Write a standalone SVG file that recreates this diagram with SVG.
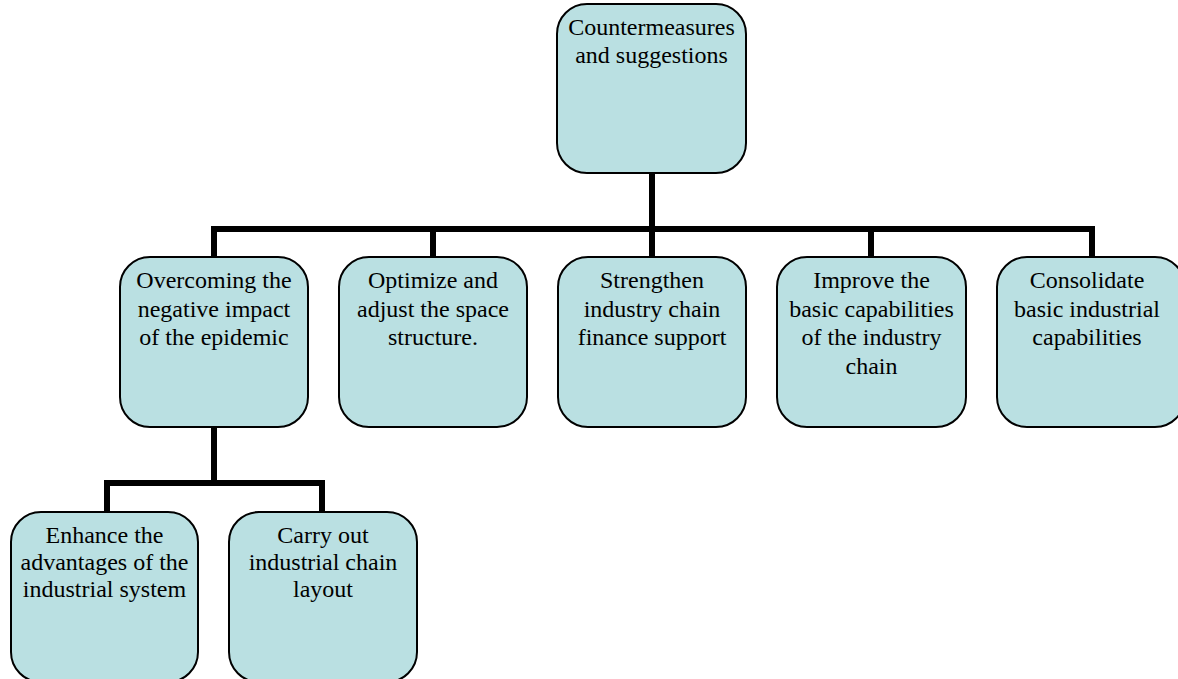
<svg xmlns="http://www.w3.org/2000/svg" width="1178" height="679" viewBox="0 0 1178 679">
<style>
.box{fill:#BAE0E2;stroke:#000;stroke-width:2}
.t{fill:#000;text-anchor:middle}
.c{fill:none;stroke:#000;stroke-width:6;stroke-linejoin:miter;stroke-linecap:square}
</style>
<rect width="1178" height="679" fill="#fff"/>
<g id="connectors">
<path class="c" d="M652,174 V229"/>
<path class="c" d="M214,257 V229 H1092 V257"/>
<path class="c" d="M433,229 V257"/>
<path class="c" d="M652,229 V257"/>
<path class="c" d="M871,229 V257"/>
<path class="c" d="M214,428 V483"/>
<path class="c" d="M107,512 V483 H322 V512"/>
</g>
<g font-family="Liberation Serif, 'Times New Roman', serif" font-size="24">
<g id="root">
<rect class="box" x="557" y="4" width="189" height="169" rx="30"/>
<text class="t" x="651.5" y="35">Countermeasures<tspan x="651.5" dy="27.5">and suggestions</tspan></text>
</g>
<g id="n1">
<rect class="box" x="120" y="257" width="188" height="170" rx="30"/>
<text class="t" x="214" y="288">Overcoming the<tspan x="214" dy="28.5">negative impact</tspan><tspan x="214" dy="28.5">of the epidemic</tspan></text>
</g>
<g id="n2">
<rect class="box" x="339" y="257" width="188" height="170" rx="30"/>
<text class="t" x="433" y="288">Optimize and<tspan x="433" dy="28.5">adjust the space</tspan><tspan x="433" dy="28.5">structure.</tspan></text>
</g>
<g id="n3">
<rect class="box" x="558" y="257" width="188" height="170" rx="30"/>
<text class="t" x="652" y="288">Strengthen<tspan x="652" dy="28.5">industry chain</tspan><tspan x="652" dy="28.5">finance support</tspan></text>
</g>
<g id="n4">
<rect class="box" x="777" y="257" width="189" height="170" rx="30"/>
<text class="t" x="871.5" y="288">Improve the<tspan x="871.5" dy="28.5">basic capabilities</tspan><tspan x="871.5" dy="28.5">of the industry</tspan><tspan x="871.5" dy="28.5">chain</tspan></text>
</g>
<g id="n5">
<rect class="box" x="997" y="257" width="188" height="170" rx="30"/>
<text class="t" x="1087" y="288">Consolidate<tspan x="1087" dy="28.5">basic industrial</tspan><tspan x="1087" dy="28.5">capabilities</tspan></text>
</g>
<g id="n6">
<rect class="box" x="11" y="512" width="187" height="170" rx="30"/>
<text class="t" x="104.5" y="543">Enhance the<tspan x="104.5" dy="27">advantages of the</tspan><tspan x="104.5" dy="27">industrial system</tspan></text>
</g>
<g id="n7">
<rect class="box" x="229" y="512" width="188" height="170" rx="30"/>
<text class="t" x="323" y="543">Carry out<tspan x="323" dy="27">industrial chain</tspan><tspan x="323" dy="27">layout</tspan></text>
</g>
</g>
</svg>
